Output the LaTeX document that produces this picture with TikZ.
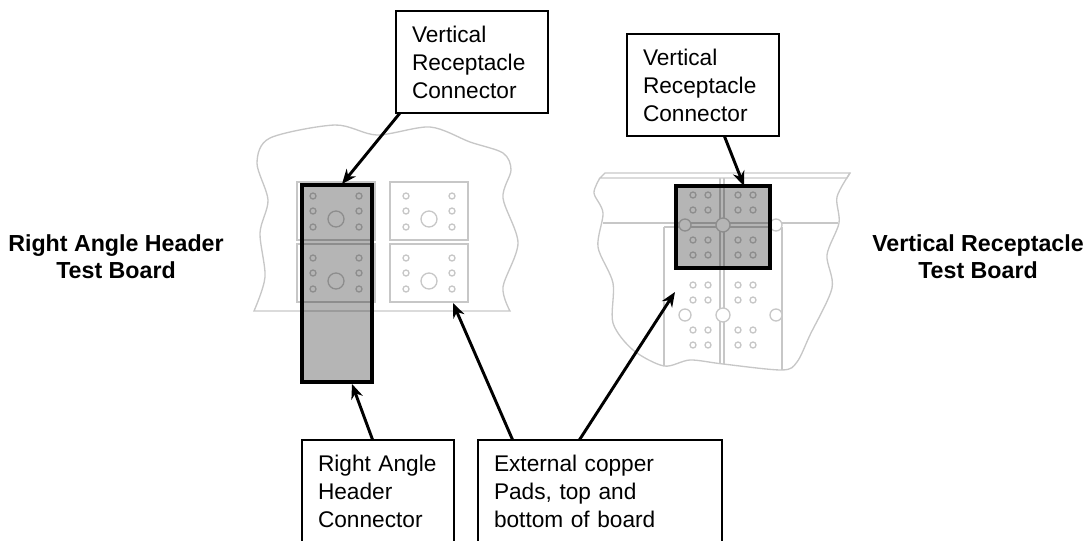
\documentclass[tikz,border=0pt]{standalone}
\usepackage{fontspec}
\setmainfont{Liberation Sans}
\usetikzlibrary{arrows.meta}
\definecolor{padline}{gray}{0.78}
\tikzset{
  boardline/.style={draw=padline, line width=1pt},
  conn/.style={draw=black, line width=2.7pt, fill=black, fill opacity=0.29, draw opacity=1, outer sep=0pt, inner sep=0pt},
  callout/.style={draw=black, line width=2.2pt, fill=white, align=left, inner xsep=12pt, inner ysep=0pt, outer sep=0pt,
    font=\fontsize{17}{21}\selectfont, anchor=north west, minimum height=76.5pt},
  sidelabel/.style={align=center, font=\fontsize{17.4}{20.5}\selectfont\bfseries},
  pointer/.style={draw=black, line width=2.2pt, -{Stealth[length=11pt,width=9pt]}}
}
\begin{document}
\begin{tikzpicture}[x=0.75pt, y=-0.75pt]
\clip (0,0) rectangle (1090,540);

% left board
\draw[boardline] plot[smooth] coordinates {(254,311) (265,277) (260,233) (268,200) (257,163) (270,138) (335,125) (377,135) (430,127) (470,142) (503,153) (511,170) (503,198) (518,243) (503,287) (510,311)} -- cycle;
\foreach \px in {297,390}
  \foreach \py in {182,244} {
    \draw[boardline] (\px,\py) rectangle +(78,58);
    \draw[boardline] (\px+39,\py+37) circle (8);
    \foreach \dx in {16,62}
      \foreach \dy in {14,29,45}
        \draw[boardline] (\px+\dx,\py+\dy) circle (3);
  }
\node[conn, minimum width=52.5pt, minimum height=147.75pt, anchor=north west] (rahconn) at (302,185) {};

% right board
\draw[boardline] plot[smooth] coordinates {(600,178) (594,193) (603,213) (598,247) (613,283) (613,323) (633,350) (664,366) (690,360) (723,364) (782,370) (797,362) (810,335) (832,288) (827,255) (839,223) (837,197) (850,173)};
\draw[boardline] (605,173) -- (850,173) -- (847,178) -- (600,178) -- cycle;
\draw[boardline] (603,223) -- (838,223);
\draw[boardline] (664,227) -- (782,227);
\draw[boardline] (664,227) -- (664,366) (782,227) -- (782,370);
\draw[boardline] (720,178) -- (720,363) (724,178) -- (724,364);
\foreach \cx/\cr in {685/6,723/7,776/6}
  \foreach \cy in {225,315}
    \draw[boardline, fill=white] (\cx,\cy) circle (\cr);
\foreach \cx in {693,708,738,753}
  \foreach \cy in {195,210,240,255,285,300,330,345}
    \draw[boardline] (\cx,\cy) circle (3);
\node[conn, minimum width=70.5pt, minimum height=61.5pt, anchor=north west] (vrconn) at (676,186) {};

% callouts
\node[callout, text width=90pt] (vrbox) at (396,11) {Vertical\\Receptacle\\Connector};
\node[callout, text width=90pt] (vrboxb) at (627,34) {Vertical\\Receptacle\\Connector};
\node[callout, text width=90pt] (rabox) at (302,440) {Right Angle\\Header\\Connector};
\node[callout, text width=159pt] (padbox) at (478,440) {External copper\\Pads, top and\\bottom of board};

% side labels
\node[sidelabel] (ralabel) at (116,257) {Right Angle Header\\Test Board};
\node[sidelabel] (vrlabel) at (978,257) {Vertical Receptacle\\Test Board};

% arrows
\coordinate (tipa) at (342,184);
\coordinate (tipb) at (744,186);
\coordinate (tipc) at (352,384);
\coordinate (tipd) at (453,303);
\coordinate (tipe) at (675,292);
\draw[pointer] ([xshift=3pt]vrbox.south west) -- (tipa);
\draw[pointer] ([xshift=73pt]vrboxb.south west) -- (tipb);
\draw[pointer] ([xshift=53pt]rabox.north west) -- (tipc);
\draw[pointer] ([xshift=26pt]padbox.north west) -- (tipd);
\draw[pointer] ([xshift=76pt]padbox.north west) -- (tipe);
\end{tikzpicture}
\end{document}
